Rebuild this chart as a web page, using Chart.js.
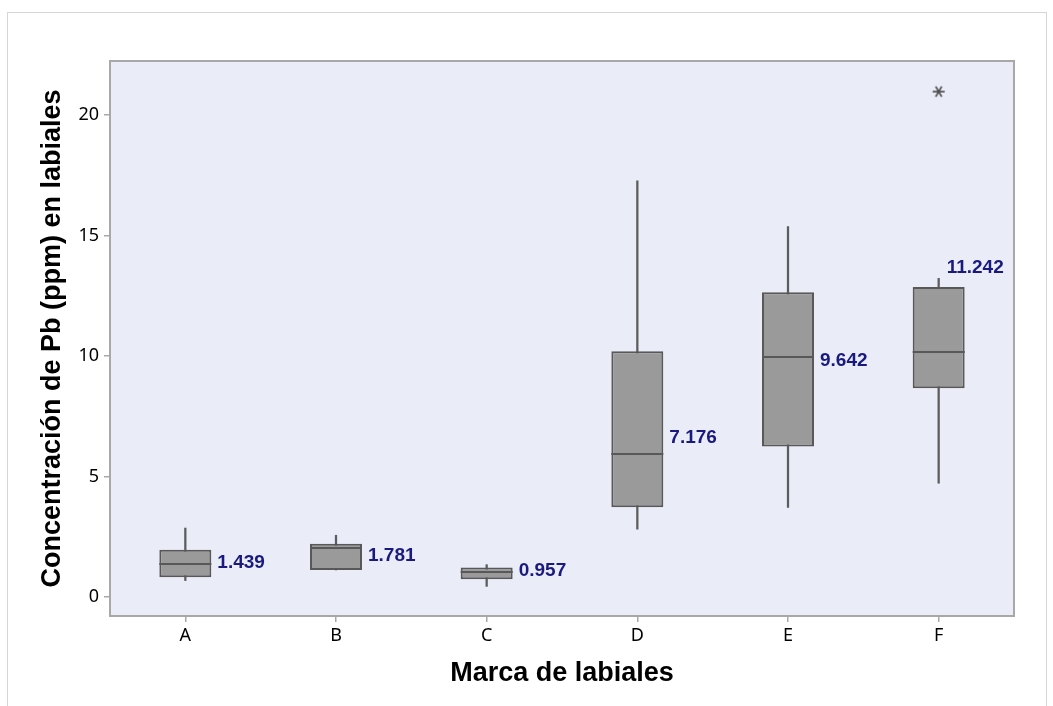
<!DOCTYPE html>
<html>
<head>
<meta charset="utf-8">
<script src="https://cdn.jsdelivr.net/npm/chart.js@4.4.1/dist/chart.umd.min.js"></script>
<style>
  html, body { margin: 0; padding: 0; background: #ffffff; }
  #wrap { position: relative; width: 1053px; height: 706px; overflow: hidden; }
  #frame { position: absolute; left: 7px; top: 12px; width: 1040px; height: 720px; border: 1.5px solid #d6d6d6; box-sizing: border-box; }
  canvas { position: absolute; left: 0; top: 0; }
</style>
</head>
<body>
<div id="wrap">
  <div id="frame"></div>
  <canvas id="c" width="1053" height="706"></canvas>
</div>
<script>
// ---- Data ----
const categories   = ['A', 'B', 'C', 'D', 'E', 'F'];
const whiskerLow   = [0.68, 1.12, 0.44, 2.81, 3.72, 4.72];
const q1           = [0.82, 1.12, 0.73, 3.72, 6.24, 8.66];
const medians      = [1.37, 2.05, 1.04, 5.93, 9.97, 10.18];
const q3           = [1.96, 2.21, 1.22, 10.20, 12.64, 12.86];
const whiskerHigh  = [2.86, 2.56, 1.34, 17.27, 15.37, 13.22];
const outlierValues = [null, null, null, null, null, 20.97];
const meanLabels   = ['1.439', '1.781', '0.957', '7.176', '9.642', '11.242'];
const labelAnchorY = [1.42, 1.70, 1.08, 6.59, 9.80, 13.66];
const labelPlacement = ['right', 'right', 'right', 'right', 'right', 'above'];
const yTicks = [0, 5, 10, 15, 20];

// asterisk point style for the outlier
function makeAsterisk() {
  const s = 16, cv = document.createElement('canvas');
  cv.width = s; cv.height = s;
  const g = cv.getContext('2d');
  g.strokeStyle = '#4d4d4d'; g.lineWidth = 1.7; g.lineCap = 'butt';
  const c = s / 2, r = 6;
  [0, Math.PI / 3, -Math.PI / 3].forEach(a => {
    g.beginPath();
    g.moveTo(c - r * Math.cos(a), c - r * Math.sin(a));
    g.lineTo(c + r * Math.cos(a), c + r * Math.sin(a));
    g.stroke();
  });
  return cv;
}

const whiskerData = categories.map((_, i) => [whiskerLow[i], whiskerHigh[i]]);
const boxData = categories.map((_, i) => [q1[i], q3[i]]);

const plotDecor = {
  id: 'plotDecor',
  beforeDatasetsDraw(chart) {
    const { ctx, chartArea: a } = chart;
    ctx.save();
    ctx.fillStyle = '#eaecf8';
    ctx.fillRect(a.left, a.top, a.right - a.left, a.bottom - a.top);
    ctx.strokeStyle = '#a8a8a8';
    ctx.lineWidth = 2;
    ctx.strokeRect(a.left, a.top, a.right - a.left, a.bottom - a.top);
    ctx.restore();
  },
  afterDatasetsDraw(chart) {
    const { ctx } = chart;
    const y = chart.scales.y;
    const boxes = chart.getDatasetMeta(1).data;
    ctx.save();
    // medians
    ctx.strokeStyle = '#585858';
    ctx.lineWidth = 2;
    boxes.forEach((el, i) => {
      const p = el.getProps(['x', 'width'], true);
      const py = Math.round(y.getPixelForValue(medians[i]));
      ctx.beginPath();
      ctx.moveTo(p.x - p.width / 2, py);
      ctx.lineTo(p.x + p.width / 2, py);
      ctx.stroke();
    });
    // mean labels
    ctx.fillStyle = '#1a1a7e';
    ctx.font = 'bold 19px "Liberation Sans", Arial, sans-serif';
    ctx.textBaseline = 'middle';
    ctx.textAlign = 'left';
    boxes.forEach((el, i) => {
      const p = el.getProps(['x', 'width'], true);
      const ly = y.getPixelForValue(labelAnchorY[i]);
      const lx = labelPlacement[i] === 'above' ? p.x + 8 : p.x + p.width / 2 + 6;
      ctx.fillText(meanLabels[i], lx, ly);
    });
    ctx.restore();
  }
};

new Chart(document.getElementById('c'), {
  type: 'bar',
  data: {
    labels: categories,
    datasets: [
      {
        label: 'Bigotes',
        data: whiskerData,
        backgroundColor: '#5c5c5c',
        borderWidth: 0,
        barThickness: 1.6,
        grouped: false,
        order: 3
      },
      {
        label: 'Caja',
        data: boxData,
        backgroundColor: '#9a9a9a',
        borderColor: '#585858',
        borderWidth: 2,
        borderSkipped: false,
        barPercentage: 0.345,
        categoryPercentage: 1,
        grouped: false,
        order: 2
      },
      {
        type: 'line',
        label: 'Atípico',
        data: outlierValues,
        showLine: false,
        pointStyle: makeAsterisk(),
        pointRadius: 8,
        order: 1
      }
    ]
  },
  options: {
    responsive: false,
    animation: false,
    events: [],
    layout: { padding: { left: 0, top: 61, right: 39, bottom: 0 } },
    plugins: { legend: { display: false }, tooltip: { enabled: false } },
    scales: {
      x: {
        offset: true,
        grid: { display: true, drawOnChartArea: false, drawTicks: true, tickLength: 6, color: '#a8a8a8', lineWidth: 1.5, offset: false },
        border: { display: true, color: '#a8a8a8', width: 2 },
        ticks: { color: '#000000', padding: 3, font: { family: '"Noto Sans", "Open Sans", sans-serif', size: 18 } },
        title: { display: true, text: 'Marca de labiales', color: '#000000', font: { family: '"Liberation Sans", Arial, sans-serif', size: 27, weight: 'bold' }, padding: { top: 10, bottom: 16 } },
        afterFit(scale) { scale.height = 90; }
      },
      y: {
        min: -0.79,
        max: 22.24,
        afterBuildTicks(scale) { scale.ticks = yTicks.map(v => ({ value: v })); },
        grid: { display: true, drawOnChartArea: false, drawTicks: true, tickLength: 6, color: '#a8a8a8', lineWidth: 1.5 },
        border: { display: true, color: '#a8a8a8', width: 2 },
        ticks: { color: '#000000', padding: 5, font: { family: '"Noto Sans", "Open Sans", sans-serif', size: 18 } },
        title: { display: true, text: 'Concentración de Pb (ppm) en labiales', color: '#000000', font: { family: '"Liberation Sans", Arial, sans-serif', size: 27, weight: 'bold' }, padding: { top: 36, bottom: 0 } },
        afterFit(scale) { scale.width = 110; }
      }
    }
  },
  plugins: [plotDecor]
});
</script>
</body>
</html>
